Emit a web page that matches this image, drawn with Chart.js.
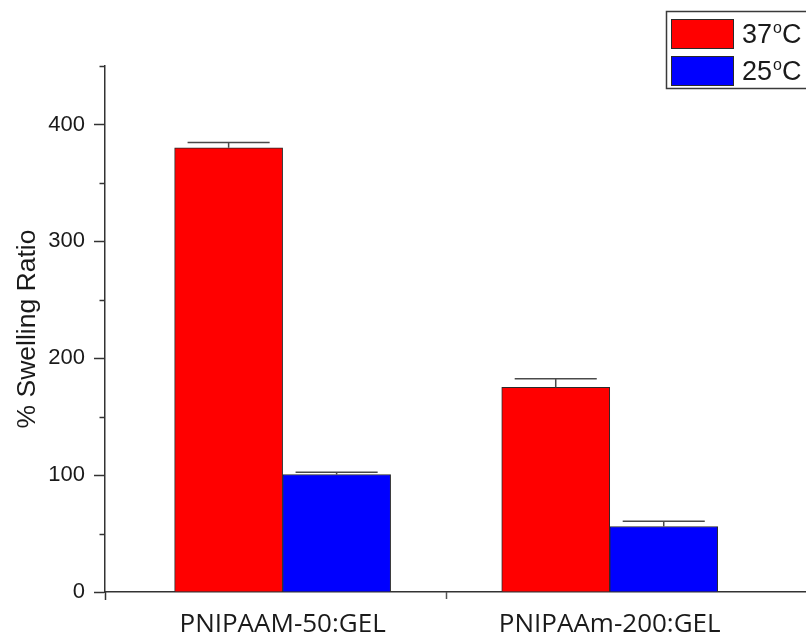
<!DOCTYPE html>
<html>
<head>
<meta charset="utf-8">
<title>% Swelling Ratio</title>
<script src="https://cdn.jsdelivr.net/npm/chart.js@4/dist/chart.umd.min.js"></script>
<style>
  html, body { margin: 0; padding: 0; background: #ffffff; }
  #wrap { width: 806px; height: 638px; position: relative; }
</style>
</head>
<body>
<div id="wrap"><canvas id="chart" width="806" height="638"></canvas></div>
<script>
// Sample groups and measured swelling ratios (%), mean and error
const categories = ['PNIPAAM-50:GEL', 'PNIPAAm-200:GEL'];
const seriesLabels = ['37°C', '25°C'];
const swell37 = [380, 175];
const err37 = [4.5, 7.5];
const swell25 = [100.5, 56];
const err25 = [2, 4.5];
const yTicks = [0, 100, 200, 300, 400];

const AXIS_COLOR = '#333333';
const TEXT_COLOR = '#1a1a1a';
const ARIAL = '"Liberation Sans", Arial, sans-serif';

// Bars sit on a numeric x axis at positions 1, 2, ... (one per category)
const toPoints = (vals) => vals.map((v, i) => ({ x: i + 1, y: v }));

// Vertical error bars (upper whisker with cap) above each bar
const errorBars = {
  id: 'errorBars',
  afterDatasetsDraw(chart) {
    const ctx = chart.ctx;
    const yScale = chart.scales.y;
    chart.data.datasets.forEach((ds, di) => {
      const meta = chart.getDatasetMeta(di);
      meta.data.forEach((bar, i) => {
        const v = ds.data[i].y;
        const e = ds.errors[i];
        const top = yScale.getPixelForValue(v + e);
        const half = bar.width * 0.38;
        ctx.save();
        ctx.strokeStyle = '#4a4a4a';
        ctx.lineWidth = 1.5;
        ctx.beginPath();
        ctx.moveTo(bar.x, bar.y);
        ctx.lineTo(bar.x, top);
        ctx.moveTo(bar.x - half, top);
        ctx.lineTo(bar.x + half, top);
        ctx.stroke();
        ctx.restore();
      });
    });
  }
};

// Short minor ticks on the y axis, and x ticks between category groups
const axisTicks = {
  id: 'axisTicks',
  afterDraw(chart) {
    const ctx = chart.ctx;
    const y = chart.scales.y;
    const x = chart.scales.x;
    const area = chart.chartArea;
    ctx.save();
    ctx.strokeStyle = AXIS_COLOR;
    ctx.lineWidth = 1.5;
    y.ticks.forEach((t) => {
      if (t.value % 100 !== 0) {
        const py = Math.round(y.getPixelForValue(t.value)) + 0.5;
        ctx.beginPath();
        ctx.moveTo(area.left - 5.5, py);
        ctx.lineTo(area.left, py);
        ctx.stroke();
      }
    });
    // y axis runs a little past the origin
    ctx.beginPath();
    ctx.moveTo(Math.round(area.left) + 0.5, area.bottom);
    ctx.lineTo(Math.round(area.left) + 0.5, area.bottom + 8);
    ctx.stroke();
    ctx.strokeStyle = '#555555';
    for (let i = 1; i < categories.length; i++) {
      const px = Math.round(x.getPixelForValue(i + 0.5)) + 0.5;
      ctx.beginPath();
      ctx.moveTo(px, area.bottom);
      ctx.lineTo(px, area.bottom + 7);
      ctx.stroke();
    }
    ctx.restore();
  }
};

// Framed legend in the upper right corner, degree sign as raised "o"
const boxLegend = {
  id: 'boxLegend',
  afterDraw(chart) {
    const ctx = chart.ctx;
    const bx = 666, by = 11, bw = 150, bh = 77;
    ctx.save();
    ctx.fillStyle = '#ffffff';
    ctx.fillRect(bx, by, bw, bh);
    ctx.strokeStyle = '#3a3a3a';
    ctx.lineWidth = 1.5;
    ctx.strokeRect(bx + 0.5, by + 0.5, bw, bh);
    chart.data.datasets.forEach((ds, i) => {
      const sy = 19 + i * 37;
      ctx.fillStyle = ds.backgroundColor;
      ctx.fillRect(671, sy, 62, 29);
      ctx.strokeStyle = '#2a2a2a';
      ctx.lineWidth = 1;
      ctx.strokeRect(671.5, sy + 0.5, 62, 29);
      const parts = ds.label.split('°');
      const base = sy + 24;
      let tx = 742;
      ctx.fillStyle = TEXT_COLOR;
      ctx.textBaseline = 'alphabetic';
      ctx.textAlign = 'left';
      ctx.font = '27px ' + ARIAL;
      ctx.fillText(parts[0], tx, base);
      tx += ctx.measureText(parts[0]).width + 1;
      ctx.font = '16px ' + ARIAL;
      ctx.fillText('o', tx, base - 10);
      tx += ctx.measureText('o').width;
      ctx.font = '27px ' + ARIAL;
      ctx.fillText(parts[1] || '', tx, base);
    });
    ctx.restore();
  }
};

new Chart(document.getElementById('chart'), {
  type: 'bar',
  data: {
    datasets: [
      {
        label: seriesLabels[0],
        data: toPoints(swell37),
        errors: err37,
        backgroundColor: '#ff0000',
        borderColor: '#2a2a2a',
        borderWidth: 1,
        borderSkipped: 'bottom'
      },
      {
        label: seriesLabels[1],
        data: toPoints(swell25),
        errors: err25,
        backgroundColor: '#0000ff',
        borderColor: '#2a2a2a',
        borderWidth: 1,
        borderSkipped: 'bottom'
      }
    ]
  },
  options: {
    responsive: false,
    animation: false,
    devicePixelRatio: 1,
    layout: { padding: { top: 66, right: 0, left: 0, bottom: 0 } },
    datasets: { bar: { barThickness: 108, grouped: true } },
    plugins: {
      legend: { display: false },
      tooltip: { enabled: false }
    },
    scales: {
      x: {
        type: 'linear',
        offset: false,
        min: 0.457,
        max: 2.6,
        afterBuildTicks(scale) {
          scale.ticks = categories.map((c, i) => ({ value: i + 1 }));
        },
        afterFit(scale) { scale.height = 46; },
        ticks: {
          autoSkip: false,
          maxRotation: 0,
          padding: 9,
          color: TEXT_COLOR,
          font: { family: '"Open Sans", sans-serif', size: 26 },
          callback: (v) => categories[v - 1]
        },
        grid: {
          drawOnChartArea: false,
          tickLength: 8,
          tickColor: 'rgba(0,0,0,0)'
        },
        border: { display: true, color: AXIS_COLOR, width: 1.5 }
      },
      y: {
        min: 0,
        max: 450,
        afterBuildTicks(scale) {
          const t = [];
          for (let v = 0; v <= 450; v += 50) t.push({ value: v });
          scale.ticks = t;
        },
        afterFit(scale) { scale.width = 105; },
        ticks: {
          padding: 9,
          color: TEXT_COLOR,
          font: { family: ARIAL, size: 22 },
          callback: (v) => yTicks.includes(v) ? String(v) : ''
        },
        grid: {
          drawOnChartArea: false,
          tickLength: 11,
          tickWidth: 1.5,
          tickColor: (c) => (c.tick && yTicks.includes(c.tick.value)) ? AXIS_COLOR : 'rgba(0,0,0,0)'
        },
        border: { display: true, color: AXIS_COLOR, width: 1.5 },
        title: {
          display: true,
          text: '% Swelling Ratio',
          color: TEXT_COLOR,
          font: { family: ARIAL, size: 26.5 },
          padding: { top: 12, bottom: 0 }
        }
      }
    }
  },
  plugins: [errorBars, axisTicks, boxLegend]
});
</script>
</body>
</html>
